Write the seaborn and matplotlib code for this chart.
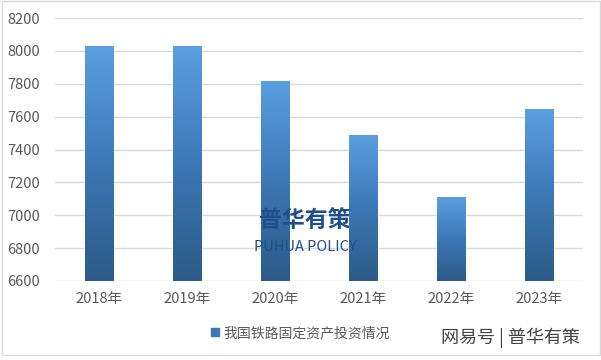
import matplotlib
matplotlib.use("Agg")
import matplotlib.pyplot as plt
import seaborn as sns
import numpy as np
import pandas as pd
from matplotlib.colors import LinearSegmentedColormap
from matplotlib.lines import Line2D
from matplotlib.patches import Rectangle

years = ["2018年", "2019年", "2020年", "2021年", "2022年", "2023年"]
values = [8028, 8029, 7819, 7489, 7109, 7645]
yticks = [6600, 6800, 7000, 7200, 7400, 7600, 7800, 8000, 8200]
series_name = "我国铁路固定资产投资情况"

sns.set_theme(style="white")
plt.rcParams['font.family'] = ['Noto Sans CJK SC', 'DejaVu Sans']

fig = plt.figure(figsize=(6.01, 3.6), dpi=100)
ax = fig.add_axes([55/601, 1-281/360, (583-55)/601, (281-18)/360])

df = pd.DataFrame({"year": years, "value": values})
sns.barplot(data=df, x="year", y="value", ax=ax, color="#4a88c8", width=0.32,
            saturation=1, zorder=2)

ax.set_ylim(6600, 8200)
ax.set_xlim(-0.5, len(years) - 0.5)
ax.set_yticks(yticks)
ax.yaxis.grid(True, color="#d9d9d9", linewidth=1, zorder=0)
ax.set_axisbelow(True)
for s in ax.spines.values():
    s.set_visible(False)
ax.set_xlabel("")
ax.set_ylabel("")
ax.tick_params(axis="both", length=0, colors="#595959", labelsize=10.5)
ax.tick_params(axis="y", pad=11)
ax.tick_params(axis="x", pad=8)

cmap = LinearSegmentedColormap.from_list("g", ["#2b5b88", "#3c78b6", "#5a9fe0"])
grad = np.linspace(0, 1, 256).reshape(-1, 1)
for p in list(ax.patches):
    x0, w = p.get_x(), p.get_width()
    y0, h = p.get_y(), p.get_height()
    lo = max(y0, 6600)
    im = ax.imshow(grad, extent=[x0, x0 + w, lo, y0 + h], origin="lower",
                   aspect="auto", cmap=cmap, zorder=3)
    im.set_clip_path(p)
ax.set_ylim(6600, 8200)
ax.set_xlim(-0.5, len(years) - 0.5)

# legend
handle = Line2D([0], [0], marker="s", linestyle="none", markersize=6,
                markerfacecolor="#3c78b6", markeredgecolor="#3c78b6")
fig.legend([handle], [series_name], loc="center", bbox_to_anchor=(300/601, 1-333/360),
           frameon=False, fontsize=10, labelcolor="#595959", handletextpad=0.2,
           handlelength=0.8)

# watermarks
fig.text(305/601, 1-220/360, "普华有策", fontsize=16.5, fontweight="bold",
         color="#1f4e8c", ha="center", va="center")
fig.text(305/601, 1-247/360, "PUHUA POLICY", fontsize=10.5,
         color="#1f4e8c", ha="center", va="center")
fig.text(510/601, 1-338/360, "网易号 | 普华有策", fontsize=13,
         color="#444444", ha="center", va="center")

# border
fig.patches.append(Rectangle((0.004, 0.015), 0.994, 0.983, transform=fig.transFigure,
                             fill=False, edgecolor="#d9d9d9", linewidth=1))

fig.savefig("out.png", dpi=100)
